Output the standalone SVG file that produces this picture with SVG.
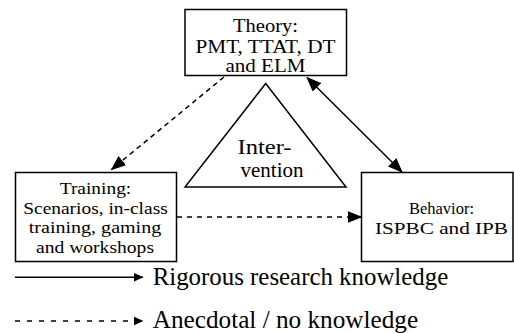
<svg xmlns="http://www.w3.org/2000/svg" width="514" height="333" viewBox="0 0 514 333">
<style>
.box{fill:#fff;stroke:#000;stroke-width:1.5}
.t{font-family:'Liberation Serif','Times New Roman',serif;fill:#000}
.n{font-size:19px;text-anchor:middle}
.s{font-size:17.5px;text-anchor:middle}
.i{font-size:21px}
.lg{font-size:24.5px}
.c{fill:none;stroke:#000;stroke-width:1.5}
.d{stroke-dasharray:5,4}
</style>
<defs>
<marker id="ah" markerUnits="userSpaceOnUse" markerWidth="15" markerHeight="12" refX="14" refY="6" orient="auto-start-reverse" viewBox="0 0 15 12">
<path d="M0,0 L15,6 L0,12 z" fill="#000"/>
</marker>
<marker id="ahs" markerUnits="userSpaceOnUse" markerWidth="10" markerHeight="9" refX="9.5" refY="4.5" orient="auto" viewBox="0 0 10 9">
<path d="M0,0 L10,4.5 L0,9 z" fill="#000"/>
</marker>
</defs>
<rect width="514" height="333" fill="#fff"/>
<g id="theory">
<rect class="box" x="185" y="9.5" width="161.5" height="66"/>
<text class="t n" x="265.5" y="32" textLength="65" lengthAdjust="spacingAndGlyphs">Theory:</text>
<text class="t n" x="265.5" y="52.5" textLength="140" lengthAdjust="spacingAndGlyphs">PMT, TTAT, DT</text>
<text class="t n" x="265.5" y="71.5" textLength="80" lengthAdjust="spacingAndGlyphs">and ELM</text>
</g>
<g id="intervention">
<polygon class="box" points="265.7,83.5 185,187 346,187"/>
<text class="t i" x="237.5" y="154" textLength="54" lengthAdjust="spacingAndGlyphs">Inter-</text>
<text class="t i" x="240.5" y="176.5" textLength="63" lengthAdjust="spacingAndGlyphs">vention</text>
</g>
<g id="training">
<rect class="box" x="15.5" y="172.5" width="161" height="89"/>
<text class="t s" x="95.5" y="193.5" textLength="71.5" lengthAdjust="spacingAndGlyphs">Training:</text>
<text class="t s" x="95.5" y="214" textLength="144.5" lengthAdjust="spacingAndGlyphs">Scenarios, in-class</text>
<text class="t s" x="95" y="233" textLength="132.5" lengthAdjust="spacingAndGlyphs">training, gaming</text>
<text class="t s" x="95" y="252.5" textLength="118" lengthAdjust="spacingAndGlyphs">and workshops</text>
</g>
<g id="behavior">
<rect class="box" x="361.5" y="172.5" width="151.5" height="89"/>
<text class="t s" x="441.5" y="214" textLength="65" lengthAdjust="spacingAndGlyphs">Behavior:</text>
<text class="t s" x="441.5" y="234" textLength="133" lengthAdjust="spacingAndGlyphs">ISPBC and IPB</text>
</g>
<g id="connectors">
<line class="c d" x1="224" y1="77" x2="111.5" y2="169.5" marker-end="url(#ah)"/>
<line class="c" x1="307" y1="77.5" x2="402" y2="172" marker-start="url(#ah)" marker-end="url(#ah)"/>
<line class="c" x1="177" y1="217" x2="361.5" y2="217" style="stroke-dasharray:5,5" marker-end="url(#ah)"/>
</g>
<g id="legend">
<line class="c" x1="15" y1="277.3" x2="143" y2="277.3" marker-end="url(#ahs)"/>
<text class="t lg" x="152.7" y="285" textLength="295.5" lengthAdjust="spacingAndGlyphs">Rigorous research knowledge</text>
<line class="c" x1="15" y1="321" x2="143" y2="321" style="stroke-dasharray:5,7" marker-end="url(#ahs)"/>
<text class="t lg" x="152.7" y="327.5" textLength="265.5" lengthAdjust="spacingAndGlyphs">Anecdotal / no knowledge</text>
</g>
</svg>
